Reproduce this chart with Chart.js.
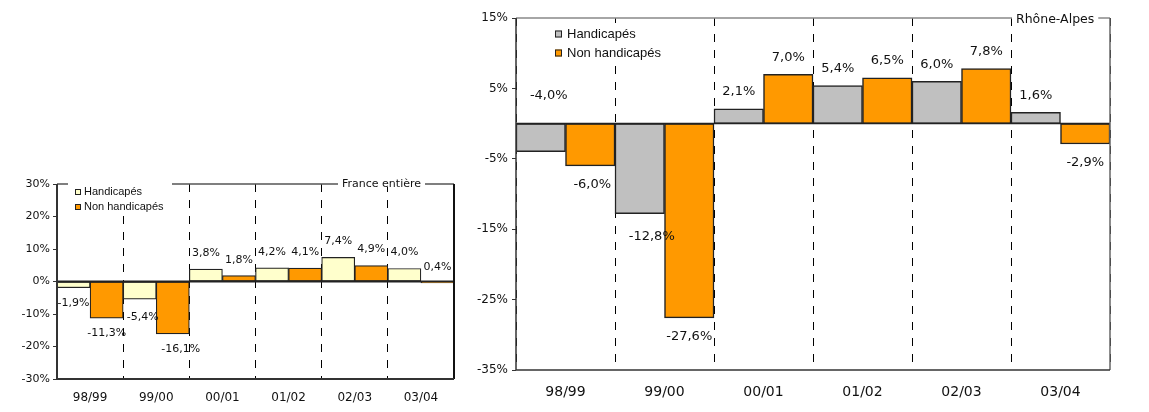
<!DOCTYPE html>
<html><head><meta charset="utf-8">
<script src="https://cdn.jsdelivr.net/npm/chart.js@4/dist/chart.umd.min.js"></script>
<style>
html,body{margin:0;padding:0;background:#fff;}
#wrap{position:relative;width:1149px;height:412px;overflow:hidden;}
#c1{position:absolute;left:0;top:0;}
#c2{position:absolute;left:460px;top:0;}
</style></head><body>
<div id="wrap">
<canvas id="c1" width="460" height="412"></canvas>
<canvas id="c2" width="689" height="412"></canvas>
</div>
<script>
// ---- data ----
const categories = ['98/99', '99/00', '00/01', '01/02', '02/03', '03/04'];
const seriesNames = ['Handicapés', 'Non handicapés'];

const franceTitle = 'France entière';
const franceHandicapes = [-1.9, -5.4, 3.8, 4.2, 7.4, 4.0];
const franceNonHandicapes = [-11.3, -16.1, 1.8, 4.1, 4.9, -0.4];
const franceLabelsH = ['-1,9%', '-5,4%', '3,8%', '4,2%', '7,4%', '4,0%'];
const franceLabelsNH = ['-11,3%', '-16,1%', '1,8%', '4,1%', '4,9%', '0,4%'];

const rhoneTitle = 'Rhône-Alpes';
const rhoneHandicapes = [-4.0, -12.8, 2.1, 5.4, 6.0, 1.6];
const rhoneNonHandicapes = [-6.0, -27.6, 7.0, 6.5, 7.8, -2.9];
const fmt = v => v.toFixed(1).replace('.', ',') + '%';
const rhoneLabelsH = rhoneHandicapes.map(fmt);
const rhoneLabelsNH = rhoneNonHandicapes.map(fmt);

const FONT = '"DejaVu Sans", sans-serif';
const LFONT = '"Liberation Sans", Arial, sans-serif';

function line(ctx, x1, y1, x2, y2) { ctx.beginPath(); ctx.moveTo(x1, y1); ctx.lineTo(x2, y2); ctx.stroke(); }

function makePlugin(cfg) {
  return {
    id: 'custom' + cfg.key,
    afterDatasetsDraw(chart) {
      const ctx = chart.ctx, ca = chart.chartArea, ys = chart.scales.y;
      const z = ys.getPixelForValue(0);
      ctx.save();
      ctx.strokeStyle = '#222'; ctx.lineWidth = cfg.zeroWidth;
      line(ctx, ca.left, z, ca.right, z);
      ctx.font = cfg.labelFont; ctx.fillStyle = '#111';
      ctx.textAlign = 'center'; ctx.textBaseline = 'middle';
      chart.data.datasets.forEach((ds, di) => {
        const meta = chart.getDatasetMeta(di);
        meta.data.forEach((bar, i) => {
          const v = ds.data[i];
          const n = cfg.nudges[di + '-' + i] || {};
          const x = bar.x + (n.dx || 0);
          let y;
          if (n.fromZero !== undefined) y = z + n.fromZero;
          else y = v >= 0 ? bar.y - cfg.above : bar.y + cfg.below;
          y += (n.dy || 0);
          ctx.fillText(cfg.labels[di][i], x, y);
        });
      });
      ctx.restore();
    },
    afterDraw(chart) {
      const ctx = chart.ctx, ca = chart.chartArea;
      ctx.save();
      // top line
      ctx.strokeStyle = cfg.topColor; ctx.lineWidth = 1.5;
      line(ctx, ca.left, ca.top, ca.right, ca.top);
      // right border
      ctx.strokeStyle = cfg.rightColor; ctx.lineWidth = cfg.rightWidth;
      line(ctx, ca.right, ca.top, ca.right, ca.bottom);
      // y axis and x axis lines
      ctx.strokeStyle = '#333'; ctx.lineWidth = cfg.axisWidth;
      line(ctx, ca.left, ca.top, ca.left, ca.bottom);
      line(ctx, ca.left, ca.bottom, ca.right, ca.bottom);
      // legend box
      const L = cfg.legend;
      ctx.fillStyle = '#fff';
      ctx.fillRect(L.box[0], L.box[1], L.box[2], L.box[3]);
      ctx.font = L.font; ctx.textAlign = 'left'; ctx.textBaseline = 'middle';
      chart.data.datasets.forEach((ds, di) => {
        const yy = L.y[di];
        ctx.fillStyle = ds.backgroundColor;
        ctx.fillRect(L.mx, yy - L.ms / 2, L.ms, L.ms);
        ctx.strokeStyle = '#222'; ctx.lineWidth = 1;
        ctx.strokeRect(L.mx + 0.5, yy - L.ms / 2 + 0.5, L.ms - 1, L.ms - 1);
        ctx.fillStyle = '#111';
        ctx.fillText(ds.label, L.tx, yy);
      });
      // title
      const T = cfg.title;
      ctx.font = T.font;
      const w = ctx.measureText(T.text).width;
      ctx.fillStyle = '#fff';
      ctx.fillRect(T.x - 4, ca.top - 3, w + 8, 6);
      ctx.fillStyle = '#111'; ctx.textBaseline = 'middle'; ctx.textAlign = 'left';
      ctx.fillText(T.text, T.x, T.y);
      ctx.restore();
    }
  };
}

function makeChart(id, cfg) {
  return new Chart(document.getElementById(id), {
    type: 'bar',
    data: {
      labels: categories,
      datasets: [
        { label: seriesNames[0], data: cfg.h, backgroundColor: cfg.hColor, borderColor: '#222', borderWidth: cfg.barBorder, borderSkipped: false },
        { label: seriesNames[1], data: cfg.nh, backgroundColor: '#FF9900', borderColor: '#222', borderWidth: cfg.barBorder, borderSkipped: false }
      ]
    },
    options: {
      responsive: false, animation: false, devicePixelRatio: 1,
      datasets: { bar: { barPercentage: 1, categoryPercentage: 1 } },
      layout: { padding: cfg.padding },
      plugins: { legend: { display: false }, tooltip: { enabled: false } },
      scales: {
        x: {
          grid: { display: true, offset: true, drawOnChartArea: true, drawTicks: false, color: '#000', lineWidth: 1 },
          border: { display: false, dash: [8, 8] },
          ticks: { font: { family: FONT, size: cfg.catSize }, color: '#111', padding: cfg.catPad },
          afterFit(s) { s.height = cfg.xHeight; }
        },
        y: {
          min: cfg.min, max: cfg.max,
          grid: { display: true, drawOnChartArea: false, drawTicks: true, tickLength: 4, color: '#333', lineWidth: 1 },
          border: { display: false },
          ticks: { stepSize: 10, font: { family: FONT, size: cfg.tickSize }, color: '#111', padding: cfg.tickPad, callback: v => v + '%' },
          afterFit(s) { s.width = cfg.yWidth; }
        }
      }
    },
    plugins: [makePlugin(cfg)]
  });
}

makeChart('c1', {
  key: 'fr', h: franceHandicapes, nh: franceNonHandicapes, hColor: '#FFFFCC',
  labels: [franceLabelsH, franceLabelsNH],
  min: -30, max: 30, barBorder: 1.2,
  padding: { left: 0, top: 184, right: 6, bottom: 3 },
  xHeight: 30, yWidth: 57, catSize: 12, catPad: 12, tickSize: 11, tickPad: 3,
  zeroWidth: 2, labelFont: '11px ' + FONT, above: 16, below: 15,
  nudges: { '0-1': { dx: 3, dy: 3 }, '1-1': { dx: 8 }, '1-5': { fromZero: -14 } },
  topColor: '#555', rightColor: '#111', rightWidth: 2, axisWidth: 2,
  legend: { box: [68, 176, 104, 39], font: '11px ' + LFONT, mx: 75, ms: 6, tx: 84, y: [192, 207] },
  title: { text: franceTitle, font: '11px ' + FONT, x: 342, y: 184 }
});

makeChart('c2', {
  key: 'ra', h: rhoneHandicapes, nh: rhoneNonHandicapes, hColor: '#C0C0C0',
  labels: [rhoneLabelsH, rhoneLabelsNH],
  min: -35, max: 15, barBorder: 1.5,
  padding: { left: 0, top: 18, right: 39, bottom: 6 },
  xHeight: 36, yWidth: 56, catSize: 14, catPad: 14, tickSize: 12, tickPad: 4,
  zeroWidth: 1.5, labelFont: '13px ' + FONT, above: 17, below: 19,
  nudges: { '0-0': { dx: 8, fromZero: -28 }, '0-1': { dx: 12, dy: 4 }, '1-0': { dx: 2 } },
  topColor: '#888', rightColor: '#666', rightWidth: 1.5, axisWidth: 1.5,
  legend: { box: [80, 23, 126, 40], font: '13px ' + LFONT, mx: 95, ms: 7, tx: 107, y: [34, 53] },
  title: { text: rhoneTitle, font: '12.5px ' + FONT, x: 556, y: 20 }
});
</script>
</body></html>
